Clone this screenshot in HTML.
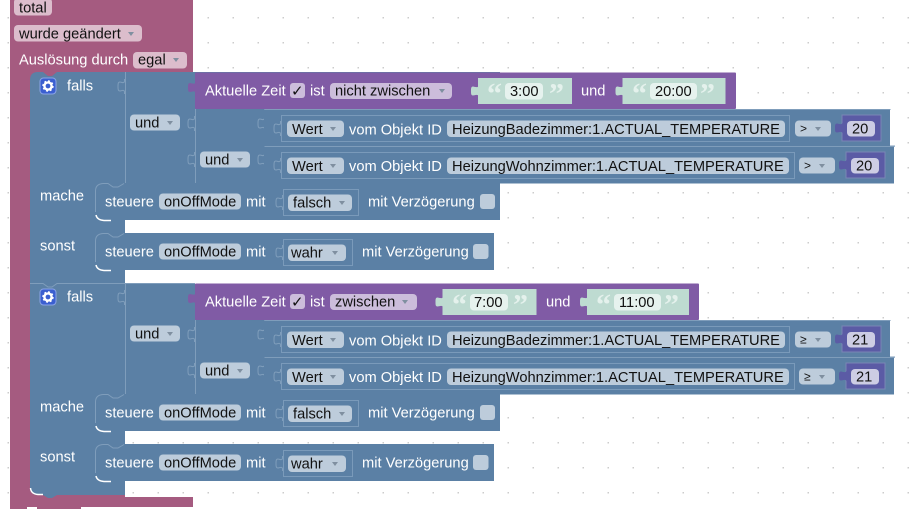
<!DOCTYPE html>
<html><head><meta charset="utf-8"><style>
html,body{margin:0;padding:0;background:#fff;width:921px;height:509px;overflow:hidden}
svg{display:block}
text{font-family:"Liberation Sans",Arial,sans-serif;font-size:14.67px;transform:translateY(-0.6px)}
.w{fill:#fff}.d{fill:#111}
.q{font-family:"Liberation Serif",serif;font-size:30px;font-weight:bold;fill:#e4f1ec}
.b{fill:#5b80a5}.i{fill:none;stroke:#7a9aba;stroke-width:1}
.fb{fill:#bdccdb}.fp{fill:#dcbdcc}.fv{fill:#ccbddb}.ft{fill:#bedbd1}.ff{fill:#e6f2ee}.fn{fill:#cdcde4}
.a{fill:#7f8fa0}
.s{fill:none;stroke:#7f9dbb;stroke-width:1}
.h{fill:none;stroke:#fff;stroke-width:1.5}
.c{font-family:"DejaVu Sans",sans-serif;font-size:15px}
</style></head><body>
<svg xmlns="http://www.w3.org/2000/svg" width="921" height="509" viewBox="0 0 921 509">
<defs>
<pattern id="g" x="6.5" y="16" width="25" height="25" patternUnits="userSpaceOnUse"><rect x="1" y="1" width="1.5" height="1.5" fill="#ccc"/></pattern>
<path id="t" d="M7.500 0V2C7.500 5 3 3 2 3C0 3 0 5 0 7.500C0 10 0 12 2 12C3 12 7.500 10 7.500 13V15Z"/>
<path id="o" d="M7.500 0V2C7.500 5 4 3 3 3C1 3 1 5 1 7.500C1 10 1 12 3 12C4 12 7.500 10 7.500 13V15" fill="none" stroke="#7f9dbb"/>
<path id="ar" d="M0 0h6l-3 4z"/>
<g id="gear"><rect x="0.5" y="0.5" width="16" height="16" rx="3.5" fill="#3b5fd0" stroke="#8aa4e6"/><circle cx="8.5" cy="8.5" r="3.6" fill="none" stroke="#fff" stroke-width="2.4"/><circle cx="8.5" cy="8.5" r="5" fill="none" stroke="#fff" stroke-width="1.4" stroke-dasharray="2 1.9"/></g>
</defs>
<rect width="921" height="509" fill="url(#g)"/>

<!-- outer pink -->
<path d="M10 0H193V72H125V80H30V497H193V507H81V509H37V507H27V509H10Z" fill="#a55b80"/>
<rect x="30" y="70" width="95" height="12" fill="#a55b80"/>
<rect x="30" y="485" width="95" height="12" fill="#a55b80"/>
<rect x="14" y="-2" width="38" height="17.5" rx="4" class="fp"/>
<text x="19" y="13" class="d">total</text>
<rect x="14" y="25" width="128" height="16.5" rx="4" class="fp"/>
<text x="19" y="39" class="d">wurde geändert</text><use href="#ar" x="128" y="32" class="a"/>
<text x="19" y="65" class="w">Auslösung durch</text>
<rect x="133" y="52" width="54" height="16.5" rx="4" class="fp"/>
<text x="138" y="65" class="d">egal</text><use href="#ar" x="173" y="58" class="a"/>

<!-- blue main body -->
<path d="M38 72H43L48 76H52L57 72H195V72H500V220H125V233H494V270H125V283H195V284H500V431H125V444H494V481H125V495H57L52 498H48L43 495H38Q30 495 30 487V80Q30 72 38 72Z" class="b"/>
<path d="M30.5 488Q31 494 38 494.5H43" class="h"/>
<rect x="125" y="72" width="70" height="111" class="b"/>
<rect x="125" y="284" width="70" height="110" class="b"/>

<!-- block 1 -->
<use href="#gear" x="39.5" y="77.5"/>
<text x="67" y="91" class="w">falls</text>
<path d="M125.500 72V183M195.500 109V183M264.500 109V183M265 146H895" class="s"/>
<use href="#o" x="117" y="79"/><use href="#o" x="187" y="116"/><use href="#o" x="257" y="116"/><use href="#o" x="187" y="152"/><use href="#o" x="257" y="152"/>
<rect x="130" y="114.500" width="50" height="16" rx="4" class="fb"/>
<text x="135" y="128" class="d">und</text><use href="#ar" x="167" y="121" class="a"/>
<rect x="200" y="151.500" width="50" height="16" rx="4" class="fb"/>
<text x="205" y="165" class="d">und</text><use href="#ar" x="237" y="158" class="a"/>

<!-- purple 1 -->
<rect x="195" y="72.500" width="541" height="36.500" rx="1" fill="#805ba5"/>
<use href="#t" x="188" y="80" fill="#805ba5"/>
<text x="205" y="96" class="w">Aktuelle Zeit</text>
<rect x="290" y="83" width="15" height="15" rx="3" class="fv"/><text x="291" y="96.500" class="d c">✓</text>
<text x="310" y="96" class="w">ist</text>
<rect x="330" y="83" width="122" height="16" rx="4" class="fv"/>
<text x="335" y="96" class="d">nicht zwischen</text><use href="#ar" x="439" y="89" class="a"/>
<rect x="478" y="78" width="94" height="26" class="ft"/><use href="#t" x="471" y="83.500" class="ft"/>
<text x="487" y="104" class="q">“</text>
<rect x="505" y="83" width="38" height="16.500" rx="4" class="ff"/>
<text x="510" y="96.500" class="d">3:00</text>
<text x="549" y="104" class="q">”</text>
<text x="581" y="96" class="w">und</text>
<rect x="622.500" y="78" width="103" height="26" class="ft"/><use href="#t" x="615.500" y="83.500" class="ft"/>
<text x="632" y="104" class="q">“</text>
<rect x="650" y="83" width="47" height="16.500" rx="4" class="ff"/>
<text x="655" y="96.500" class="d">20:00</text>
<text x="700" y="104" class="q">”</text>

<!-- wert rows 1 -->
<rect x="264" y="109.500" width="626" height="37" class="b"/>
<rect x="264" y="146.500" width="630" height="37" class="b"/>
<path d="M264.500 109.500H890.500M264.500 146.500H894.500" class="s"/>
<rect x="281.500" y="115.500" width="508" height="26" class="i"/>
<rect x="281.500" y="152.500" width="513" height="26" class="i"/>
<use href="#o" x="273" y="121"/><use href="#o" x="273" y="158"/>
<rect x="287" y="120.500" width="57" height="16.500" rx="4" class="fb"/>
<text x="292" y="134.500" class="d">Wert</text><use href="#ar" x="330" y="127" class="a"/>
<text x="349" y="135" class="w">vom Objekt ID</text>
<rect x="447" y="120.500" width="338" height="16.500" rx="4" class="fb"/>
<text x="452" y="134.500" class="d">HeizungBadezimmer:1.ACTUAL_TEMPERATURE</text>
<rect x="795" y="120.500" width="36" height="16" rx="4" class="fb"/>
<text x="800" y="133" class="d" style="font-size:12px">&gt;</text><use href="#ar" x="815" y="127" class="a"/>
<rect x="842" y="115" width="39" height="26" fill="#5b5ba5" stroke="#7a86b5"/><use href="#t" x="835" y="120.500" fill="#5b5ba5"/>
<rect x="847" y="121" width="28" height="15.500" rx="4" class="fn"/>
<text x="852" y="134" class="d">20</text>

<rect x="287" y="157.500" width="57" height="16.500" rx="4" class="fb"/>
<text x="292" y="171.500" class="d">Wert</text><use href="#ar" x="330" y="164" class="a"/>
<text x="349" y="171.500" class="w">vom Objekt ID</text>
<rect x="447" y="157.500" width="342" height="16.500" rx="4" class="fb"/>
<text x="452" y="171.500" class="d">HeizungWohnzimmer:1.ACTUAL_TEMPERATURE</text>
<rect x="799" y="157.500" width="36" height="16" rx="4" class="fb"/>
<text x="804" y="170" class="d" style="font-size:12px">&gt;</text><use href="#ar" x="819" y="164" class="a"/>
<rect x="846" y="152" width="39" height="26" fill="#5b5ba5" stroke="#7a86b5"/><use href="#t" x="839" y="157.500" fill="#5b5ba5"/>
<rect x="851" y="158" width="28" height="15.500" rx="4" class="fn"/>
<text x="856" y="171" class="d">20</text>

<!-- mache/sonst 1 -->
<text x="40" y="201" class="w">mache</text>
<path d="M95.500 212V191Q95.500 184 103 183.500H108L113 187H118L124 183.500" class="s"/>
<path d="M96 215Q97 220 104 220.500H111" class="h"/>
<text x="105" y="207" class="w">steuere</text>
<rect x="159" y="193.500" width="82" height="16" rx="4" class="fb"/>
<text x="164" y="207" class="d">onOffMode</text>
<text x="246" y="207" class="w">mit</text>
<use href="#o" x="275" y="195"/>
<rect x="283.500" y="189.500" width="75" height="26" class="i"/>
<rect x="288" y="194.500" width="64" height="16.500" rx="4" class="fb"/>
<text x="293" y="208" class="d">falsch</text><use href="#ar" x="339" y="201" class="a"/>
<text x="368" y="207" class="w">mit Verzögerung</text>
<rect x="480" y="194" width="15" height="15" rx="3" class="fb"/>

<text x="40" y="251" class="w">sonst</text>
<path d="M95.500 262V241Q95.500 234 103 233.500H108L113 237H118L124 233.500" class="s"/>
<path d="M96 265Q97 270 104 270.500H111" class="h"/>
<text x="105" y="257" class="w">steuere</text>
<rect x="159" y="243.500" width="82" height="16" rx="4" class="fb"/>
<text x="164" y="257" class="d">onOffMode</text>
<text x="246" y="257" class="w">mit</text>
<use href="#o" x="275" y="245"/>
<rect x="283.500" y="239.500" width="69" height="26" class="i"/>
<rect x="288" y="244.500" width="58" height="16.500" rx="4" class="fb"/>
<text x="291" y="258" class="d">wahr</text><use href="#ar" x="332" y="251" class="a"/>
<text x="362" y="257" class="w">mit Verzögerung</text>
<rect x="473" y="244" width="15.500" height="15" rx="3" class="fb"/>

<!-- block 2 -->
<path d="M30 283.500H43L48 287H52L57 283.500H195" class="s"/>
<use href="#gear" x="39.500" y="288.500"/>
<text x="67" y="302" class="w">falls</text>
<path d="M125.500 284V394M195.500 320V394M264.500 320V394M265 357H895" class="s"/>
<use href="#o" x="117" y="290"/><use href="#o" x="187" y="327"/><use href="#o" x="257" y="327"/><use href="#o" x="187" y="363"/><use href="#o" x="257" y="363"/>
<rect x="130" y="325.500" width="50" height="16" rx="4" class="fb"/>
<text x="135" y="339" class="d">und</text><use href="#ar" x="167" y="332" class="a"/>
<rect x="200" y="362.500" width="50" height="16" rx="4" class="fb"/>
<text x="205" y="376" class="d">und</text><use href="#ar" x="237" y="369" class="a"/>

<rect x="195" y="283.500" width="504" height="36.500" rx="1" fill="#805ba5"/>
<use href="#t" x="188" y="291" fill="#805ba5"/>
<text x="205" y="307" class="w">Aktuelle Zeit</text>
<rect x="290" y="294" width="15" height="15" rx="3" class="fv"/><text x="291" y="307.500" class="d c">✓</text>
<text x="310" y="307" class="w">ist</text>
<rect x="330" y="294" width="87" height="16" rx="4" class="fv"/>
<text x="335" y="307" class="d">zwischen</text><use href="#ar" x="402" y="300" class="a"/>
<rect x="442.500" y="289" width="94" height="26" class="ft"/><use href="#t" x="435.500" y="294.500" class="ft"/>
<text x="452" y="315" class="q">“</text>
<rect x="470" y="294" width="38" height="16.500" rx="4" class="ff"/>
<text x="474" y="307.500" class="d">7:00</text>
<text x="513" y="315" class="q">”</text>
<text x="546" y="307" class="w">und</text>
<rect x="587" y="289" width="102" height="26" class="ft"/><use href="#t" x="580" y="294.500" class="ft"/>
<text x="596" y="315" class="q">“</text>
<rect x="614" y="294" width="47" height="16.500" rx="4" class="ff"/>
<text x="619" y="307.500" class="d">11:00</text>
<text x="664" y="315" class="q">”</text>

<rect x="264" y="320.500" width="626" height="37" class="b"/>
<rect x="264" y="357.500" width="630" height="37" class="b"/>
<path d="M264.500 320.500H890.500M264.500 357.500H894.500" class="s"/>
<rect x="281.500" y="326.500" width="508" height="26" class="i"/>
<rect x="281.500" y="363.500" width="513" height="26" class="i"/>
<use href="#o" x="273" y="332"/><use href="#o" x="273" y="369"/>
<rect x="287" y="331.500" width="57" height="16.500" rx="4" class="fb"/>
<text x="292" y="345.500" class="d">Wert</text><use href="#ar" x="330" y="338" class="a"/>
<text x="349" y="346" class="w">vom Objekt ID</text>
<rect x="447" y="331.500" width="338" height="16.500" rx="4" class="fb"/>
<text x="452" y="345.500" class="d">HeizungBadezimmer:1.ACTUAL_TEMPERATURE</text>
<rect x="795" y="331.500" width="36" height="16" rx="4" class="fb"/>
<text x="800" y="344" class="d" style="font-size:12px">≥</text><use href="#ar" x="815" y="338" class="a"/>
<rect x="842" y="326" width="39" height="26" fill="#5b5ba5" stroke="#7a86b5"/><use href="#t" x="835" y="331.500" fill="#5b5ba5"/>
<rect x="847" y="332" width="28" height="15.500" rx="4" class="fn"/>
<text x="852" y="345" class="d">21</text>

<rect x="287" y="368.500" width="57" height="16.500" rx="4" class="fb"/>
<text x="292" y="382.500" class="d">Wert</text><use href="#ar" x="330" y="375" class="a"/>
<text x="349" y="382.500" class="w">vom Objekt ID</text>
<rect x="447" y="368.500" width="342" height="16.500" rx="4" class="fb"/>
<text x="452" y="382.500" class="d">HeizungWohnzimmer:1.ACTUAL_TEMPERATURE</text>
<rect x="799" y="368.500" width="36" height="16" rx="4" class="fb"/>
<text x="804" y="381" class="d" style="font-size:12px">≥</text><use href="#ar" x="819" y="375" class="a"/>
<rect x="846" y="363" width="39" height="26" fill="#5b5ba5" stroke="#7a86b5"/><use href="#t" x="839" y="368.500" fill="#5b5ba5"/>
<rect x="851" y="369" width="28" height="15.500" rx="4" class="fn"/>
<text x="856" y="382" class="d">21</text>

<text x="40" y="412" class="w">mache</text>
<path d="M95.500 423V402Q95.500 395 103 394.500H108L113 398H118L124 394.500" class="s"/>
<path d="M96 426Q97 431 104 431.500H111" class="h"/>
<text x="105" y="418" class="w">steuere</text>
<rect x="159" y="404.500" width="82" height="16" rx="4" class="fb"/>
<text x="164" y="418" class="d">onOffMode</text>
<text x="246" y="418" class="w">mit</text>
<use href="#o" x="275" y="406"/>
<rect x="283.500" y="400.500" width="75" height="26" class="i"/>
<rect x="288" y="405.500" width="64" height="16.500" rx="4" class="fb"/>
<text x="293" y="419" class="d">falsch</text><use href="#ar" x="339" y="412" class="a"/>
<text x="368" y="418" class="w">mit Verzögerung</text>
<rect x="480" y="405" width="15" height="15" rx="3" class="fb"/>

<text x="40" y="462" class="w">sonst</text>
<path d="M95.500 473V452Q95.500 445 103 444.500H108L113 448H118L124 444.500" class="s"/>
<path d="M96 476Q97 481 104 481.500H111" class="h"/>
<text x="105" y="468" class="w">steuere</text>
<rect x="159" y="454.500" width="82" height="16" rx="4" class="fb"/>
<text x="164" y="468" class="d">onOffMode</text>
<text x="246" y="468" class="w">mit</text>
<use href="#o" x="275" y="456"/>
<rect x="283.500" y="450.500" width="69" height="26" class="i"/>
<rect x="288" y="455.500" width="58" height="16.500" rx="4" class="fb"/>
<text x="291" y="469" class="d">wahr</text><use href="#ar" x="332" y="462" class="a"/>
<text x="362" y="468" class="w">mit Verzögerung</text>
<rect x="473" y="455" width="15.500" height="15" rx="3" class="fb"/>
</svg>
</body></html>
